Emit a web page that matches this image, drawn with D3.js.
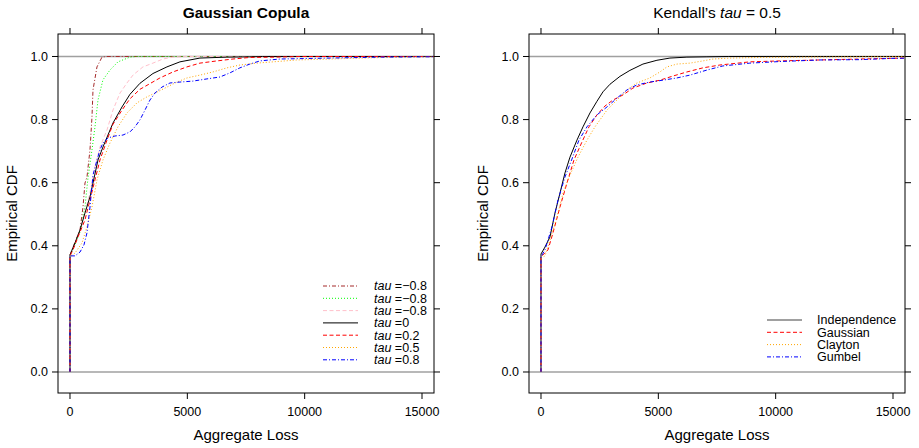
<!DOCTYPE html>
<html>
<head>
<meta charset="utf-8">
<script src="https://cdn.jsdelivr.net/npm/d3@7"></script>
<style>
  body { margin: 0; background: #fff; }
  text { font-family: "Liberation Sans", Arial, Helvetica, sans-serif; fill: #000; }
</style>
</head>
<body>
<div id="chart"></div>
<script>
const W = 919, H = 448;

// ---- data: empirical CDF points [aggregate loss, F] ----
const xTicks = [0, 5000, 10000, 15000];
const yTicks = [0, 0.2, 0.4, 0.6, 0.8, 1.0];

// left panel: Gaussian copula with different tau
const gaussTauNeg1 = [[0,0],[0,0.371],[128,0.396],[426,0.450],[554,0.523],[639,0.599],[724,0.618],[852,0.704],[937,0.808],[980,0.894],[1150,0.967],[1363,0.998],[1576,1],[16000,1]];
const gaussTauNeg2 = [[0,0],[0,0.368],[213,0.403],[426,0.444],[639,0.523],[767,0.615],[937,0.704],[1065,0.777],[1193,0.862],[1405,0.926],[1704,0.957],[2044,0.983],[2555,0.998],[2854,1],[16000,1]];
const gaussTauNeg3 = [[0,0],[0,0.371],[213,0.409],[426,0.453],[639,0.507],[852,0.567],[1065,0.650],[1278,0.713],[1576,0.767],[1831,0.830],[2130,0.884],[2428,0.916],[2683,0.941],[3109,0.967],[3535,0.979],[3961,0.992],[4387,0.998],[4983,1],[16000,1]];
const gaussTau0 = [[0,0],[0,0.371],[213,0.409],[426,0.450],[639,0.504],[852,0.555],[980,0.599],[1193,0.672],[1405,0.713],[1831,0.789],[2215,0.840],[2555,0.880],[2981,0.915],[3535,0.946],[4131,0.967],[4685,0.983],[5537,0.995],[6687,0.998],[7666,0.999],[8200,1],[16000,1]];
const gaussTau02 = [[0,0],[0,0.368],[128,0.387],[341,0.428],[639,0.482],[852,0.545],[1065,0.609],[1278,0.672],[1576,0.735],[1831,0.785],[2215,0.830],[2555,0.866],[2981,0.896],[3407,0.914],[3833,0.932],[4387,0.951],[4983,0.967],[5537,0.979],[6261,0.986],[6942,0.992],[7666,0.997],[8730,0.998],[9795,1],[16000,1]];
const gaussTau05 = [[0,0],[0,0.365],[213,0.377],[511,0.409],[724,0.460],[937,0.523],[1150,0.609],[1405,0.672],[1704,0.726],[2044,0.777],[2428,0.821],[2854,0.853],[3279,0.872],[3705,0.887],[4131,0.903],[4557,0.919],[4983,0.932],[5537,0.941],[6090,0.951],[6687,0.964],[7240,0.973],[7964,0.979],[8645,0.983],[9668,0.989],[11073,0.992],[12479,0.995],[13927,0.998],[15333,0.999],[16000,1]];
const gaussTau08 = [[0,0],[0,0.368],[213,0.368],[426,0.380],[596,0.403],[724,0.441],[852,0.523],[980,0.624],[1150,0.672],[1278,0.704],[1405,0.726],[1618,0.742],[1917,0.748],[2257,0.751],[2555,0.761],[2768,0.777],[2981,0.799],[3194,0.830],[3407,0.862],[3620,0.884],[3918,0.903],[4259,0.916],[4685,0.919],[5239,0.922],[5835,0.929],[6388,0.935],[6814,0.948],[7240,0.964],[7666,0.976],[8092,0.986],[8943,0.992],[11073,0.995],[13203,0.998],[15333,0.999],[16000,1]];

// right panel: different copulas with Kendall's tau = 0.5
const indep = [[0,0],[0,0.374],[170,0.396],[383,0.428],[596,0.504],[809,0.567],[1022,0.631],[1235,0.681],[1533,0.735],[1789,0.777],[2087,0.821],[2385,0.858],[2641,0.888],[2939,0.912],[3365,0.937],[3790,0.956],[4344,0.976],[4940,0.988],[5494,0.995],[6218,0.998],[7070,0.999],[8000,1],[16000,1]];
const gaussian = [[0,0],[0,0.365],[298,0.387],[511,0.441],[809,0.523],[1107,0.599],[1405,0.672],[1746,0.729],[2044,0.777],[2385,0.815],[2726,0.843],[3066,0.862],[3492,0.878],[3918,0.900],[4514,0.916],[5068,0.925],[5622,0.938],[6218,0.951],[6900,0.964],[7624,0.973],[8901,0.983],[10179,0.986],[11883,0.989],[13586,0.992],[14949,0.994],[16000,0.996]];
const clayton = [[0,0],[0,0.361],[170,0.368],[383,0.418],[681,0.491],[937,0.567],[1235,0.624],[1576,0.681],[1959,0.735],[2300,0.777],[2811,0.830],[3237,0.862],[3663,0.894],[4088,0.916],[4642,0.932],[5068,0.951],[5366,0.967],[5792,0.976],[6346,0.979],[6900,0.986],[7326,0.992],[8050,0.995],[9327,0.997],[11031,0.998],[13160,0.999],[16000,1]];
const gumbel = [[0,0],[0,0.365],[170,0.387],[469,0.460],[724,0.545],[1022,0.618],[1320,0.675],[1618,0.735],[1959,0.777],[2385,0.815],[2811,0.840],[3237,0.868],[3663,0.894],[4088,0.910],[4642,0.919],[5196,0.925],[5792,0.932],[6346,0.941],[7070,0.957],[7751,0.970],[8901,0.979],[10179,0.984],[11883,0.989],[13586,0.990],[14949,0.994],[16000,0.995]];

const leftLabels = ["=\u22120.8", "=\u22120.8", "=\u22120.8", "=0", "=0.2", "=0.5", "=0.8"];
const rightLabels = ["Independence", "Gaussian", "Clayton", "Gumbel"];

// ---- styles ----
const DOTDASH = "4,2,1,2", DOTTED = "1,2", DASHED = "4,2.5";
const leftSeries = [
  { pts: gaussTauNeg1, col: "#a52a2a", dash: DOTDASH },
  { pts: gaussTauNeg2, col: "#00ff00", dash: DOTTED },
  { pts: gaussTauNeg3, col: "#ffc0cb", dash: DASHED },
  { pts: gaussTau0,    col: "#000000", dash: null },
  { pts: gaussTau02,   col: "#ff0000", dash: DASHED },
  { pts: gaussTau05,   col: "#ffa500", dash: DOTTED },
  { pts: gaussTau08,   col: "#0000ff", dash: DOTDASH }
];
const rightSeries = [
  { pts: indep,    col: "#000000", dash: null, legCol: "#808080", legW: 1.6 },
  { pts: gaussian, col: "#ff0000", dash: DASHED },
  { pts: clayton,  col: "#ffa500", dash: DOTTED },
  { pts: gumbel,   col: "#0000ff", dash: DOTDASH }
];

const svg = d3.select("#chart").append("svg")
  .attr("width", W).attr("height", H);

function drawPanel(left, series, opts) {
  const box = { x0: left, x1: left + 376, y0: 34, y1: 393 };
  const x = d3.scaleLinear().domain([-511, 15511]).range([box.x0, box.x1]);
  const y = d3.scaleLinear().domain([-0.0666, 1.0713]).range([box.y1, box.y0]);
  const g = svg.append("g");

  const clipId = "clip" + left;
  svg.append("clipPath").attr("id", clipId)
    .append("rect").attr("x", box.x0).attr("y", box.y0)
    .attr("width", box.x1 - box.x0).attr("height", box.y1 - box.y0);

  // reference lines at 0 and 1
  g.selectAll(".ref").data([0, 1]).enter().append("line")
    .attr("x1", box.x0).attr("x2", box.x1)
    .attr("y1", d => y(d)).attr("y2", d => y(d))
    .attr("stroke", "#a0a0a0").attr("stroke-width", 1.6);

  const line = d3.line().x(d => x(d[0])).y(d => y(d[1]));
  g.append("g").attr("clip-path", `url(#${clipId})`)
    .selectAll("path").data(series).enter().append("path")
    .attr("d", d => line(d.pts))
    .attr("fill", "none")
    .attr("stroke", d => d.col)
    .attr("stroke-width", 1)
    .attr("stroke-dasharray", d => d.dash);

  // frame
  g.append("rect").attr("x", box.x0).attr("y", box.y0)
    .attr("width", box.x1 - box.x0).attr("height", box.y1 - box.y0)
    .attr("fill", "none").attr("stroke", "#000").attr("stroke-width", 1);

  // axes (lattice style: labels left & bottom, bare ticks top & right)
  const tick = 6;
  const ax = g.append("g").attr("stroke", "#000").attr("stroke-width", 1);
  xTicks.forEach(t => {
    ax.append("line").attr("x1", x(t)).attr("x2", x(t)).attr("y1", box.y1).attr("y2", box.y1 + tick);
    ax.append("line").attr("x1", x(t)).attr("x2", x(t)).attr("y1", box.y0).attr("y2", box.y0 - tick);
  });
  yTicks.forEach(t => {
    ax.append("line").attr("y1", y(t)).attr("y2", y(t)).attr("x1", box.x0).attr("x2", box.x0 - tick);
    ax.append("line").attr("y1", y(t)).attr("y2", y(t)).attr("x1", box.x1).attr("x2", box.x1 + tick);
  });
  g.selectAll(".xl").data(xTicks).enter().append("text")
    .attr("x", d => x(d)).attr("y", 416)
    .attr("text-anchor", "middle").attr("font-size", 12.5)
    .text(d => d);
  g.selectAll(".yl").data(yTicks).enter().append("text")
    .attr("x", box.x0 - 10).attr("y", d => y(d) + 4.5)
    .attr("text-anchor", "end").attr("font-size", 12.5)
    .text(d => d3.format(".1f")(d));

  // axis titles
  g.append("text").attr("x", (box.x0 + box.x1) / 2).attr("y", 440)
    .attr("text-anchor", "middle").attr("font-size", 15).text("Aggregate Loss");
  g.append("text")
    .attr("transform", `translate(${box.x0 - 41},${(box.y0 + box.y1) / 2}) rotate(-90)`)
    .attr("text-anchor", "middle").attr("font-size", 15).text("Empirical CDF");

  // panel title
  const title = g.append("text").attr("x", (box.x0 + box.x1) / 2).attr("y", 18)
    .attr("text-anchor", "middle").attr("font-size", 15.5);
  opts.title(title);

  // legend
  const leg = g.append("g");
  series.forEach((s, i) => {
    const ly = opts.legY + i * 12.3;
    leg.append("line")
      .attr("x1", box.x0 + opts.legX).attr("x2", box.x0 + opts.legX + 35)
      .attr("y1", ly).attr("y2", ly)
      .attr("stroke", s.legCol || s.col).attr("stroke-width", s.legW || 1)
      .attr("stroke-dasharray", s.dash);
    const t = leg.append("text").attr("x", box.x0 + opts.legX + opts.textDx)
      .attr("y", ly + 4.3).attr("font-size", 12.5);
    opts.label(t, i);
  });
}

drawPanel(58, leftSeries, {
  title: t => t.attr("font-weight", "bold").text("Gaussian Copula"),
  legX: 265, legY: 286, textDx: 51,
  label: (t, i) => {
    t.append("tspan").attr("font-style", "italic").text("tau");
    t.append("tspan").text(" " + leftLabels[i]);
  }
});

drawPanel(529, rightSeries, {
  title: t => {
    t.append("tspan").text("Kendall\u2019s ");
    t.append("tspan").attr("font-style", "italic").text("tau");
    t.append("tspan").text(" = 0.5");
  },
  legX: 238, legY: 320, textDx: 50,
  label: (t, i) => t.text(rightLabels[i])
});
</script>
</body>
</html>
